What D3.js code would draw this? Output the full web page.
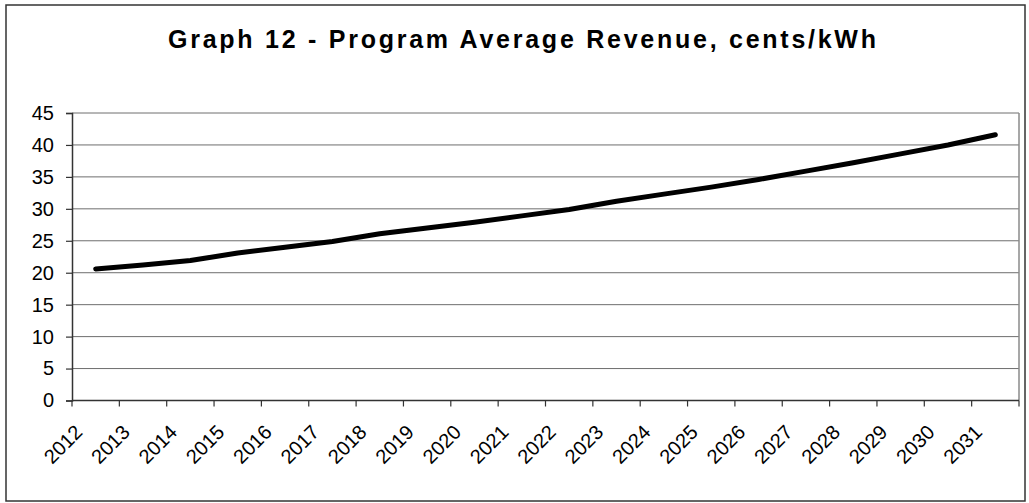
<!DOCTYPE html>
<html>
<head>
<meta charset="utf-8">
<script src="https://cdn.jsdelivr.net/npm/d3@7"></script>
<style>
  html, body { margin: 0; padding: 0; background: #fff; }
  svg { display: block; font-family: "Liberation Sans", Arial, sans-serif; }
</style>
</head>
<body>
<svg id="chart" width="1029" height="503"></svg>
<script>
// Program average revenue by year, cents/kWh
const years = ["2012","2013","2014","2015","2016","2017","2018","2019","2020","2021",
               "2022","2023","2024","2025","2026","2027","2028","2029","2030","2031"];
const revenue = [20.6, 21.2, 21.9, 23.1, 24.0, 24.9, 26.1, 27.0, 27.9, 28.9,
                 29.9, 31.2, 32.3, 33.4, 34.6, 35.9, 37.2, 38.6, 40.0, 41.6];
const yTicks = [0, 5, 10, 15, 20, 25, 30, 35, 40, 45];
const title = "Graph 12 - Program Average Revenue, cents/kWh";

const svg = d3.select("#chart");
const plot = { left: 72, right: 1019, top: 113, bottom: 400.5 };

// outer frame
svg.append("rect")
  .attr("x", 6).attr("y", 5).attr("width", 1019).attr("height", 496)
  .attr("fill", "#fff").attr("stroke", "#333").attr("stroke-width", 1.5);

// title
svg.append("text")
  .attr("x", 522).attr("y", 48)
  .attr("text-anchor", "middle")
  .attr("font-size", 25).attr("font-weight", "bold")
  .attr("textLength", 708).attr("lengthAdjust", "spacing")
  .attr("fill", "#000")
  .text(title);

const x = d3.scaleBand().domain(years).range([plot.left, plot.right]).padding(0);
const y = d3.scaleLinear().domain([0, 45]).range([plot.bottom, plot.top]);

// horizontal gridlines
svg.append("g").selectAll("line").data(yTicks.filter(d => d > 0)).join("line")
  .attr("x1", plot.left).attr("x2", plot.right)
  .attr("y1", d => y(d)).attr("y2", d => y(d))
  .attr("stroke", "#6e6e6e").attr("stroke-width", 1);

// right edge of plot area
svg.append("line")
  .attr("x1", plot.right).attr("x2", plot.right)
  .attr("y1", plot.top).attr("y2", plot.bottom)
  .attr("stroke", "#8a8a8a").attr("stroke-width", 1.5);

// y axis
const yAxis = d3.axisLeft(y).tickValues(yTicks).tickSize(6).tickPadding(12).tickFormat(d3.format("d"));
const gy = svg.append("g").attr("transform", `translate(${plot.left},0)`).call(yAxis);
gy.select(".domain").attr("stroke", "#333").attr("stroke-width", 1.5);
gy.selectAll(".tick line").attr("stroke", "#333").attr("stroke-width", 1.2);
gy.selectAll(".tick text")
  .attr("font-size", 20).attr("fill", "#000")
  .attr("font-family", "Liberation Sans, Arial, sans-serif");

// x axis: ticks at category boundaries
const boundaries = years.map(d => x(d)).concat([plot.right]);
const gx = svg.append("g");
gx.append("line")
  .attr("x1", plot.left).attr("x2", plot.right)
  .attr("y1", plot.bottom).attr("y2", plot.bottom)
  .attr("stroke", "#333").attr("stroke-width", 1.5);
gx.selectAll("line.tk").data(boundaries).join("line").attr("class", "tk")
  .attr("x1", d => d).attr("x2", d => d)
  .attr("y1", plot.bottom).attr("y2", plot.bottom + 6)
  .attr("stroke", "#333").attr("stroke-width", 1.2);
gx.selectAll("text").data(years).join("text")
  .attr("transform", d => `translate(${x(d) + x.bandwidth() / 2 - 12},${plot.bottom + 33}) rotate(-45)`)
  .attr("text-anchor", "end")
  .attr("font-size", 20).attr("fill", "#000")
  .text(d => d);

// revenue line
const line = d3.line()
  .x((d, i) => x(years[i]) + x.bandwidth() / 2)
  .y(d => y(d));
svg.append("path")
  .datum(revenue)
  .attr("d", line)
  .attr("fill", "none")
  .attr("stroke", "#000")
  .attr("stroke-width", 5)
  .attr("stroke-linecap", "round")
  .attr("stroke-linejoin", "round");
</script>
</body>
</html>
